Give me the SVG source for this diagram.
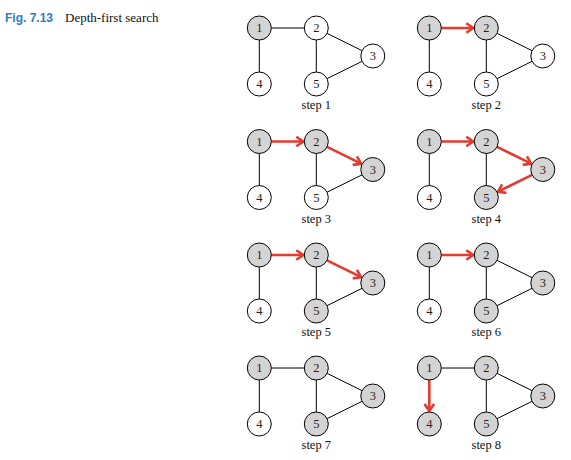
<svg xmlns="http://www.w3.org/2000/svg" width="571" height="460" viewBox="0 0 571 460">
<style>
.bg{fill:#fff}
.node circle{stroke:#000;stroke-width:1;fill:#fff}
.node.v circle{fill:#d4d4d4}
.node text{font-family:"Liberation Serif","Times New Roman",serif;font-size:12.5px;fill:#2a1e18;text-anchor:middle}
.lbl{font-family:"Liberation Serif","Times New Roman",serif;font-size:12.5px;fill:#111;text-anchor:middle}
.e{stroke:#000;stroke-width:1;fill:none}
.a{stroke:#e53a2f;stroke-width:2.6;fill:none;marker-end:url(#ah)}
</style>
<defs>
<marker id="ah" markerUnits="userSpaceOnUse" markerWidth="14" markerHeight="14" viewBox="0 0 14 14" refX="11" refY="7" orient="auto" overflow="visible">
<path d="M4,2.2 L11,7 L4,11.8" fill="none" stroke="#e53a2f" stroke-width="2.6"/>
</marker>
</defs>
<rect class="bg" x="0" y="0" width="571" height="460"/>
<g id="title">
<text x="5" y="22" style="font-family:'Liberation Sans',Arial,sans-serif;font-size:12px;font-weight:bold;fill:#2b7bbf">Fig. 7.13</text>
<text x="65" y="22" style="font-family:'Liberation Serif','Times New Roman',serif;font-size:13px;fill:#111">Depth-first search</text>
</g>
<g id="connectors">
<g transform="translate(259.3,28)">
<line class="e" x1="12" y1="0" x2="45" y2="0"/><line class="e" x1="0" y1="12" x2="0" y2="44"/><line class="e" x1="57" y1="12" x2="57" y2="44"/><line class="e" x1="67.75" y1="5.33" x2="102.75" y2="22.67"/><line class="e" x1="102.75" y1="33.33" x2="67.75" y2="50.67"/>
</g>
<g transform="translate(429.3,28)">
<line class="a" x1="12" y1="0" x2="44" y2="0"/><line class="e" x1="0" y1="12" x2="0" y2="44"/><line class="e" x1="57" y1="12" x2="57" y2="44"/><line class="e" x1="67.75" y1="5.33" x2="102.75" y2="22.67"/><line class="e" x1="102.75" y1="33.33" x2="67.75" y2="50.67"/>
</g>
<g transform="translate(259.3,141.5)">
<line class="a" x1="12" y1="0" x2="44" y2="0"/><line class="e" x1="0" y1="12" x2="0" y2="44"/><line class="e" x1="57" y1="12" x2="57" y2="44"/><line class="a" x1="67.75" y1="5.33" x2="101.8" y2="22.2"/><line class="e" x1="102.75" y1="33.33" x2="67.75" y2="50.67"/>
</g>
<g transform="translate(429.3,141.5)">
<line class="a" x1="12" y1="0" x2="44" y2="0"/><line class="e" x1="0" y1="12" x2="0" y2="44"/><line class="e" x1="57" y1="12" x2="57" y2="44"/><line class="a" x1="67.75" y1="5.33" x2="101.8" y2="22.2"/><line class="a" x1="102.75" y1="33.33" x2="68.7" y2="50.2"/>
</g>
<g transform="translate(259.3,255)">
<line class="a" x1="12" y1="0" x2="44" y2="0"/><line class="e" x1="0" y1="12" x2="0" y2="44"/><line class="e" x1="57" y1="12" x2="57" y2="44"/><line class="a" x1="67.75" y1="5.33" x2="101.8" y2="22.2"/><line class="e" x1="102.75" y1="33.33" x2="67.75" y2="50.67"/>
</g>
<g transform="translate(429.3,255)">
<line class="a" x1="12" y1="0" x2="44" y2="0"/><line class="e" x1="0" y1="12" x2="0" y2="44"/><line class="e" x1="57" y1="12" x2="57" y2="44"/><line class="e" x1="67.75" y1="5.33" x2="102.75" y2="22.67"/><line class="e" x1="102.75" y1="33.33" x2="67.75" y2="50.67"/>
</g>
<g transform="translate(259.3,368)">
<line class="e" x1="12" y1="0" x2="45" y2="0"/><line class="e" x1="0" y1="12" x2="0" y2="44"/><line class="e" x1="57" y1="12" x2="57" y2="44"/><line class="e" x1="67.75" y1="5.33" x2="102.75" y2="22.67"/><line class="e" x1="102.75" y1="33.33" x2="67.75" y2="50.67"/>
</g>
<g transform="translate(429.3,368)">
<line class="e" x1="12" y1="0" x2="45" y2="0"/><line class="a" x1="0" y1="12" x2="0" y2="43"/><line class="e" x1="57" y1="12" x2="57" y2="44"/><line class="e" x1="67.75" y1="5.33" x2="102.75" y2="22.67"/><line class="e" x1="102.75" y1="33.33" x2="67.75" y2="50.67"/>
</g>
</g>
<g id="step1" transform="translate(259.3,28)">
<g id="s1-n1" class="node v"><circle cx="0" cy="0" r="12"/><text x="0" y="4.3">1</text></g>
<g id="s1-n2" class="node"><circle cx="57" cy="0" r="12"/><text x="57" y="4.3">2</text></g>
<g id="s1-n3" class="node"><circle cx="113.5" cy="28" r="12"/><text x="113.5" y="32.3">3</text></g>
<g id="s1-n4" class="node"><circle cx="0" cy="56" r="12"/><text x="0" y="60.3">4</text></g>
<g id="s1-n5" class="node"><circle cx="57" cy="56" r="12"/><text x="57" y="60.3">5</text></g>
<text class="lbl" x="57" y="81">step 1</text>
</g>
<g id="step2" transform="translate(429.3,28)">
<g id="s2-n1" class="node v"><circle cx="0" cy="0" r="12"/><text x="0" y="4.3">1</text></g>
<g id="s2-n2" class="node v"><circle cx="57" cy="0" r="12"/><text x="57" y="4.3">2</text></g>
<g id="s2-n3" class="node"><circle cx="113.5" cy="28" r="12"/><text x="113.5" y="32.3">3</text></g>
<g id="s2-n4" class="node"><circle cx="0" cy="56" r="12"/><text x="0" y="60.3">4</text></g>
<g id="s2-n5" class="node"><circle cx="57" cy="56" r="12"/><text x="57" y="60.3">5</text></g>
<text class="lbl" x="57" y="81">step 2</text>
</g>
<g id="step3" transform="translate(259.3,141.5)">
<g id="s3-n1" class="node v"><circle cx="0" cy="0" r="12"/><text x="0" y="4.3">1</text></g>
<g id="s3-n2" class="node v"><circle cx="57" cy="0" r="12"/><text x="57" y="4.3">2</text></g>
<g id="s3-n3" class="node v"><circle cx="113.5" cy="28" r="12"/><text x="113.5" y="32.3">3</text></g>
<g id="s3-n4" class="node"><circle cx="0" cy="56" r="12"/><text x="0" y="60.3">4</text></g>
<g id="s3-n5" class="node"><circle cx="57" cy="56" r="12"/><text x="57" y="60.3">5</text></g>
<text class="lbl" x="57" y="81">step 3</text>
</g>
<g id="step4" transform="translate(429.3,141.5)">
<g id="s4-n1" class="node v"><circle cx="0" cy="0" r="12"/><text x="0" y="4.3">1</text></g>
<g id="s4-n2" class="node v"><circle cx="57" cy="0" r="12"/><text x="57" y="4.3">2</text></g>
<g id="s4-n3" class="node v"><circle cx="113.5" cy="28" r="12"/><text x="113.5" y="32.3">3</text></g>
<g id="s4-n4" class="node"><circle cx="0" cy="56" r="12"/><text x="0" y="60.3">4</text></g>
<g id="s4-n5" class="node v"><circle cx="57" cy="56" r="12"/><text x="57" y="60.3">5</text></g>
<text class="lbl" x="57" y="81">step 4</text>
</g>
<g id="step5" transform="translate(259.3,255)">
<g id="s5-n1" class="node v"><circle cx="0" cy="0" r="12"/><text x="0" y="4.3">1</text></g>
<g id="s5-n2" class="node v"><circle cx="57" cy="0" r="12"/><text x="57" y="4.3">2</text></g>
<g id="s5-n3" class="node v"><circle cx="113.5" cy="28" r="12"/><text x="113.5" y="32.3">3</text></g>
<g id="s5-n4" class="node"><circle cx="0" cy="56" r="12"/><text x="0" y="60.3">4</text></g>
<g id="s5-n5" class="node v"><circle cx="57" cy="56" r="12"/><text x="57" y="60.3">5</text></g>
<text class="lbl" x="57" y="81">step 5</text>
</g>
<g id="step6" transform="translate(429.3,255)">
<g id="s6-n1" class="node v"><circle cx="0" cy="0" r="12"/><text x="0" y="4.3">1</text></g>
<g id="s6-n2" class="node v"><circle cx="57" cy="0" r="12"/><text x="57" y="4.3">2</text></g>
<g id="s6-n3" class="node v"><circle cx="113.5" cy="28" r="12"/><text x="113.5" y="32.3">3</text></g>
<g id="s6-n4" class="node"><circle cx="0" cy="56" r="12"/><text x="0" y="60.3">4</text></g>
<g id="s6-n5" class="node v"><circle cx="57" cy="56" r="12"/><text x="57" y="60.3">5</text></g>
<text class="lbl" x="57" y="81">step 6</text>
</g>
<g id="step7" transform="translate(259.3,368)">
<g id="s7-n1" class="node v"><circle cx="0" cy="0" r="12"/><text x="0" y="4.3">1</text></g>
<g id="s7-n2" class="node v"><circle cx="57" cy="0" r="12"/><text x="57" y="4.3">2</text></g>
<g id="s7-n3" class="node v"><circle cx="113.5" cy="28" r="12"/><text x="113.5" y="32.3">3</text></g>
<g id="s7-n4" class="node"><circle cx="0" cy="56" r="12"/><text x="0" y="60.3">4</text></g>
<g id="s7-n5" class="node v"><circle cx="57" cy="56" r="12"/><text x="57" y="60.3">5</text></g>
<text class="lbl" x="57" y="81">step 7</text>
</g>
<g id="step8" transform="translate(429.3,368)">
<g id="s8-n1" class="node v"><circle cx="0" cy="0" r="12"/><text x="0" y="4.3">1</text></g>
<g id="s8-n2" class="node v"><circle cx="57" cy="0" r="12"/><text x="57" y="4.3">2</text></g>
<g id="s8-n3" class="node v"><circle cx="113.5" cy="28" r="12"/><text x="113.5" y="32.3">3</text></g>
<g id="s8-n4" class="node v"><circle cx="0" cy="56" r="12"/><text x="0" y="60.3">4</text></g>
<g id="s8-n5" class="node v"><circle cx="57" cy="56" r="12"/><text x="57" y="60.3">5</text></g>
<text class="lbl" x="57" y="81">step 8</text>
</g>
</svg>
